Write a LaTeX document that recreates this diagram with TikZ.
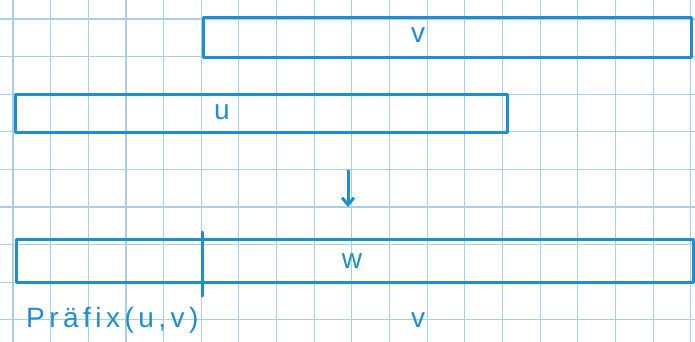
\documentclass[tikz,border=0pt]{standalone}
\usepackage{fontspec}
\setmainfont{Liberation Sans}
\usetikzlibrary{arrows.meta}
\definecolor{ink}{HTML}{1E8ED0}
\definecolor{gridc}{HTML}{A8CFEA}
\tikzset{
  bar/.style={draw=ink, line width=3.2pt, line cap=round, line join=round, minimum height=40pt, inner sep=0pt},
  lbl/.style={text=ink, font=\fontsize{28}{30}\selectfont, inner sep=0pt},
  tick/.style={draw=ink, line width=3pt, line cap=round},
  flow/.style={draw=ink, line width=3pt, -{Straight Barb[length=7pt,width=12pt]}}
}
\begin{document}
\begin{tikzpicture}[x=1pt,y=-1pt]
\useasboundingbox (0,0) rectangle (695,342);
\fill[white] (0,0) rectangle (695,342);
% graph paper
\foreach \k in {0,...,18} \draw[gridc, line width=1.1pt] ({13+37.65*\k},0) -- ({13+37.65*\k},342);
\foreach \k in {0,...,8} \draw[gridc, line width=1.1pt] (0,{19+37.6*\k}) -- (695,{19+37.6*\k});
% v bar
\node[bar, minimum width=488pt, minimum height=40pt, anchor=north west] (vbar) at (202,16) {};
\node[lbl] (vlab) at (418,35) {v};
% u bar
\node[bar, minimum width=492pt, minimum height=38pt, anchor=north west] (ubar) at (14,93) {};
\node[lbl] (ulab) at (222,112) {u};
% w bar
\node[bar, minimum width=677pt, minimum height=43pt, anchor=north west] (wbar) at (15,238) {};
\node[lbl] (wlab) at (352,261) {w};
\coordinate (dtop) at (202,232);
\coordinate (dbot) at (202,296);
\draw[tick] (dtop) -- (dbot);
% arrow
\coordinate (as) at (348,170);
\coordinate (ae) at (348,207);
\draw[flow] (as) -- (ae);
% labels below
\node[lbl, anchor=west] (plab) at (26,320) {\addfontfeature{LetterSpace=16}Präfix(u,v)};
\node[lbl] (vlab2) at (418,320) {v};
\end{tikzpicture}
\end{document}
